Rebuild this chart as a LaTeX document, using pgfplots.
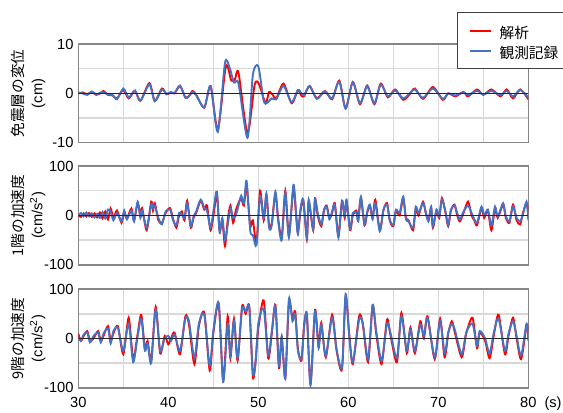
\documentclass[border=0pt]{standalone}
\usepackage{fontspec}
\setmainfont{Liberation Sans}
\newfontfamily\cjk{Noto Sans CJK JP}
\usepackage{pgfplots}
\pgfplotsset{compat=1.18}
\definecolor{myred}{RGB}{255,0,0}
\definecolor{myblue}{RGB}{68,114,196}
\definecolor{gridgray}{RGB}{217,217,217}
\definecolor{axgray}{RGB}{134,134,134}
\pgfplotsset{
 panel/.style={
  width=337.5pt, height=74pt, scale only axis,
  xmin=30, xmax=80,
  xtick={30,40,...,80}, minor xtick={35,45,...,75},
  grid=both,
  major grid style={gridgray,line width=1.1pt},
  minor grid style={gridgray,line width=1.1pt},
  major tick length=0pt, minor tick length=0pt,
  axis line style={axgray,line width=1.1pt},
  tick label style={font=\fontsize{11}{13}\selectfont},
  xticklabel style={yshift=-3.5pt},
  ylabel style={font=\fontsize{11}{14}\selectfont, align=center,
    at={(axis description cs:-0.111,0.5)}, anchor=center},
  every axis plot/.append style={line width=1.4pt, smooth, tension=0.45},
 }
}
\begin{document}
\begin{tikzpicture}
% ---------------- panel 1 ----------------
\begin{axis}[panel, at={(0pt,183.75pt)}, anchor=south west,
  ymin=-10, ymax=10, ytick={-10,0,10}, yticklabels={-10,0,10},
  minor ytick={-5,5}, xticklabels={},
  ylabel={{\cjk 免震層の変位}\\(cm)},
  legend style={at={(rel axis cs:0.842,1.321)}, anchor=north west,
    draw=black!75, line width=0.75pt, fill=white,
    font=\cjk\fontsize{11}{13}\selectfont,
    nodes={inner xsep=0pt, inner ysep=0.5pt, text height=11.5pt, text depth=0pt},
    inner xsep=8.25pt, inner ysep=7.2pt, row sep=2.5pt, column sep=6pt,
    cells={anchor=west}},
  legend image code/.code={\draw[#1, line width=1.4pt] (0pt,0pt) -- (15.75pt,0pt);},
]
\addplot[myred] coordinates {
(30,0) (30.5,0.2) (31,-0.2) (31.5,0.3) (32,-0.3) (32.5,0.1) (32.8,0.5) (33.3,-0.3) (33.8,-0.4) (34.3,-1) (35,0.7) (35.6,-1) (36.3,0.5) (36.9,-1.5) (37.9,2.1) (38.5,-1.5) (39.3,1) (39.8,-0.2) (40.3,0.2) (40.7,0) (41.3,1.5) (41.9,-0.8) (42.3,-0.5) (42.7,0.5) (43.1,-0.3) (44,-2.9) (44.7,1.5) (45.5,-7.3) (46.4,5.5) (47,2.6) (47.4,2.8) (47.8,4.2) (48.8,-8) (49.6,1.8) (50.1,1.8) (50.8,-2) (51.2,0.3) (51.6,-0.3) (52,-1) (52.8,2) (53.7,-2) (54.4,0.6) (54.8,-0.5) (55.1,-0.5) (55.7,1.5) (56.5,-1) (57.4,0.5) (58.2,-1.2) (59,2.6) (59.7,-3) (60.5,2.3) (61.3,-2.2) (62.1,1.6) (62.9,-2.2) (63.6,2) (64.4,-0.8) (65.2,0.8) (66.1,-1.3) (66.8,-0.2) (67.4,1) (68.3,-1.1) (69.4,1.3) (70.5,-1.3) (71.1,0) (71.9,-0.6) (72.8,0.3) (73.3,-0.6) (74.3,0.8) (75,-0.3) (75.9,0.8) (76.9,-0.6) (77.6,0.8) (78.3,-1) (79.1,0.8) (80,-1.2)
};
\addlegendentry{解析}
\addplot[myblue] coordinates {
(30,0.2) (30.5,0) (31,-0.3) (31.5,0.4) (32,-0.2) (32.5,0.2) (32.8,0.2) (33.3,-0.2) (33.8,-0.3) (34.3,-1.2) (35,1) (35.6,-0.8) (36.3,0.6) (36.9,-1.5) (37.9,1.8) (38.5,-1.6) (39.3,0.8) (39.8,-0.1) (40.3,0.3) (40.7,0.1) (41.3,1.6) (41.9,-0.9) (42.3,-0.6) (42.7,0.3) (43.1,-0.4) (44,-2.8) (44.7,1.5) (45.5,-7.8) (46.3,6.2) (46.8,5.3) (47.3,2.2) (47.8,2) (48.8,-9) (49.4,3.8) (50,5.5) (50.6,-1.5) (51,-1.9) (51.5,-1) (52,-1.2) (52.8,1.5) (53.7,-1.8) (54.4,0.7) (54.8,0) (55.1,-0.3) (55.7,1.5) (56.5,-1.1) (57.4,0.4) (58.2,-1) (59,2.4) (59.7,-3.1) (60.5,2.3) (61.3,-2) (62.1,1.4) (62.9,-2) (63.6,1.8) (64.4,-0.6) (65.2,0.6) (66.1,-1) (66.8,0) (67.4,0.8) (68.3,-0.9) (69.4,1) (70.5,-1.1) (71.1,0) (71.9,-0.4) (72.8,0.2) (73.3,-0.3) (74.3,0.5) (75,-0.2) (75.9,0.5) (76.9,-0.3) (77.6,0.5) (78.3,-0.6) (79.1,0.7) (80,-0.8)
};
\addlegendentry{観測記録}
\addplot[black!85, line width=1.1pt, sharp plot, forget plot] coordinates {(30,0) (80,0)};
\end{axis}
% ---------------- panel 2 ----------------
\begin{axis}[panel, at={(0pt,92.25pt)}, anchor=south west,
  ymin=-100, ymax=100, ytick={-100,0,100}, yticklabels={-100,0,100},
  minor ytick={-50,50}, xticklabels={},
  ylabel={{\cjk 1階の加速度}\\(cm/s\textsuperscript{2})},
]
\addplot[myred] coordinates {
(30.0,0) (30.3,-3) (30.6,4) (30.9,-2) (31.2,5) (31.5,-3) (31.8,4) (32.1,-4) (32.4,6) (32.7,-6) (33.0,8) (33.3,-8) (33.6,14) (33.9,-5) (34.3,10) (34.8,-15) (35.1,6) (35.4,-6) (35.9,14) (36.2,-10) (36.6,25) (36.9,0) (37.1,15) (37.6,-30) (38.1,28) (38.3,10) (38.5,25) (38.9,-10) (39.3,-15) (39.7,5) (40.2,15) (40.5,-5) (40.9,-25) (41.2,0) (41.5,8) (41.8,-10) (42.1,30) (42.5,-25) (42.8,-5) (43.1,5) (43.6,30) (44.0,12) (44.3,20) (44.7,-30) (45.1,10) (45.4,45) (45.7,-30) (46.0,-10) (46.3,-62) (46.6,-10) (46.9,20) (47.2,-15) (47.5,10) (47.8,25) (48.1,35) (48.4,20) (48.7,60) (49.1,-20) (49.4,-10) (49.8,-55) (50.2,50) (50.6,-10) (50.9,40) (51.2,-20) (51.5,-15) (51.9,45) (52.2,-5) (52.6,-45) (53.0,50) (53.4,-40) (53.9,55) (54.2,0) (54.4,-35) (54.7,10) (55.0,30) (55.4,-48) (55.6,28) (56.1,-30) (56.3,35) (56.6,0) (57.0,-22) (57.3,10) (57.6,20) (57.9,-5) (58.2,5) (58.5,25) (58.9,-40) (59.3,30) (59.6,-5) (59.8,30) (60.2,-30) (60.5,0) (60.9,10) (61.1,-10) (61.4,35) (61.8,-20) (62.1,5) (62.4,20) (62.7,-5) (63.0,32) (63.5,-30) (63.9,10) (64.3,25) (64.6,-10) (65.0,-22) (65.3,10) (65.7,0) (66.1,35) (66.4,-5) (66.7,-10) (67.2,-30) (67.5,15) (67.8,0) (68.3,28) (68.6,5) (68.9,-10) (69.2,15) (69.4,-25) (69.8,10) (70.1,-5) (70.4,35) (70.8,5) (71.1,-22) (71.4,10) (71.8,22) (72.1,0) (72.4,-12) (72.8,5) (73.3,28) (73.7,0) (74.0,-10) (74.3,-20) (74.8,15) (75.1,-5) (75.5,10) (75.9,-30) (76.3,15) (76.6,-5) (77.2,22) (77.5,-5) (77.9,-15) (78.3,22) (78.7,-10) (79.1,-18) (79.4,5) (79.8,25) (80.0,5)
};
\addplot[myblue] coordinates {
(30.0,0) (30.3,5) (30.6,-2) (30.9,6) (31.2,-2) (31.5,4) (31.8,-4) (32.1,3) (32.4,-5) (32.7,7) (33.0,-6) (33.3,12) (33.6,8) (33.9,-10) (34.3,5) (34.8,-12) (35.1,10) (35.4,-8) (35.9,10) (36.2,-12) (36.6,28) (36.9,-5) (37.1,10) (37.6,-25) (38.1,22) (38.3,15) (38.5,20) (38.9,-5) (39.3,-18) (39.7,8) (40.2,12) (40.5,-8) (40.9,-20) (41.2,5) (41.5,2) (41.8,-5) (42.1,25) (42.5,-22) (42.8,-2) (43.1,8) (43.6,32) (44.0,15) (44.3,10) (44.7,-25) (45.1,20) (45.4,48) (45.7,-35) (46.0,-5) (46.3,-50) (46.6,-20) (46.9,15) (47.2,-5) (47.5,0) (47.8,20) (48.1,40) (48.4,25) (48.7,70) (49.1,-30) (49.4,-40) (49.8,-60) (50.2,40) (50.6,-5) (50.9,45) (51.2,-25) (51.5,-20) (51.9,48) (52.2,-10) (52.6,-50) (53.0,45) (53.4,-45) (53.9,62) (54.2,5) (54.4,-38) (54.7,15) (55.0,32) (55.4,-45) (55.6,32) (56.1,-28) (56.3,32) (56.6,5) (57.0,-18) (57.3,12) (57.6,18) (57.9,-8) (58.2,8) (58.5,22) (58.9,-45) (59.3,28) (59.6,0) (59.8,32) (60.2,-28) (60.5,5) (60.9,5) (61.1,-12) (61.4,38) (61.8,-18) (62.1,8) (62.4,22) (62.7,-8) (63.0,25) (63.5,-32) (63.9,12) (64.3,22) (64.6,-8) (65.0,-20) (65.3,12) (65.7,5) (66.1,38) (66.4,-8) (66.7,-12) (67.2,-25) (67.5,18) (67.8,5) (68.3,25) (68.6,8) (68.9,-12) (69.2,18) (69.4,-22) (69.8,12) (70.1,-2) (70.4,32) (70.8,8) (71.1,-20) (71.4,12) (71.8,20) (72.1,5) (72.4,-8) (72.8,8) (73.3,20) (73.7,5) (74.0,-8) (74.3,-15) (74.8,18) (75.1,0) (75.5,12) (75.9,-20) (76.3,18) (76.6,-2) (77.2,25) (77.5,-2) (77.9,-12) (78.3,18) (78.7,-5) (79.1,-12) (79.4,2) (79.8,28) (80.0,-10)
};
\addplot[black!85, line width=1.1pt, sharp plot] coordinates {(30,0) (80,0)};
\end{axis}
% ---------------- panel 3 ----------------
\begin{axis}[panel, at={(0pt,0pt)}, anchor=south west,
  ymin=-100, ymax=100, ytick={-100,0,100}, yticklabels={-100,0,100},
  minor ytick={-50,50}, xticklabels={30,40,50,60,70,80},
  ylabel={{\cjk 9階の加速度}\\(cm/s\textsuperscript{2})},
  xlabel={(s)},
  xlabel style={font=\fontsize{11}{13}\selectfont, at={(axis description cs:1.055,0)}, anchor=north, yshift=-3.5pt},
]
\addplot[myred] coordinates {
(30.0,10) (30.3,-5) (30.6,5) (31.0,15) (31.3,-5) (31.7,0) (32.2,15) (32.5,-5) (32.8,5) (33.3,25) (33.6,-5) (33.9,10) (34.4,25) (35.0,-32) (35.6,42) (36.1,-42) (36.6,10) (37.0,48) (37.4,-20) (37.7,-5) (38.1,-45) (38.6,64) (39.1,-30) (39.6,5) (40.0,-12) (40.3,0) (40.7,12) (41.3,-32) (41.9,45) (42.3,28) (42.9,-52) (43.4,25) (44.0,52) (44.6,-65) (45.0,10) (45.6,70) (46.1,-85) (46.6,45) (46.9,-40) (47.3,40) (47.7,-45) (48.2,65) (48.6,50) (49.0,65) (49.4,-78) (49.7,-45) (50.0,20) (50.6,77) (51.1,-40) (51.5,10) (51.9,68) (52.3,-60) (52.6,0) (53.0,-80) (53.4,72) (53.8,40) (54.1,55) (54.4,-20) (54.8,-45) (55.1,30) (55.4,45) (55.8,-92) (56.3,58) (56.7,-15) (57.0,32) (57.5,-38) (58.2,48) (58.7,-25) (59.3,-62) (59.7,85) (60.1,10) (60.5,-52) (61.2,45) (61.6,30) (62.2,-48) (62.7,67) (63.1,10) (63.7,-52) (64.3,38) (64.7,5) (65.4,-48) (65.9,52) (66.5,-30) (66.9,22) (67.4,-30) (68.0,35) (68.4,0) (68.8,45) (69.6,-42) (70.2,40) (70.7,-38) (71.1,10) (71.5,35) (71.8,15) (72.6,-38) (73.1,10) (73.8,42) (74.3,-20) (74.6,12) (75.2,-5) (75.7,-40) (76.2,10) (76.7,48) (77.4,-32) (77.8,5) (78.3,42) (78.7,0) (79.2,-42) (79.8,25) (80.0,15)
};
\addplot[myblue] coordinates {
(30.0,0) (30.3,-5) (30.6,8) (31.0,12) (31.3,-8) (31.7,5) (32.2,12) (32.5,-8) (32.8,10) (33.3,20) (33.6,-10) (33.9,15) (34.4,22) (35.0,-25) (35.6,30) (36.1,-48) (36.6,5) (37.0,40) (37.4,-25) (37.7,-10) (38.1,-50) (38.6,58) (39.1,-25) (39.6,0) (40.0,5) (40.3,-5) (40.7,8) (41.3,-25) (41.9,40) (42.3,35) (42.9,-40) (43.4,30) (44.0,48) (44.6,-55) (45.0,15) (45.6,72) (46.1,-88) (46.6,30) (46.9,-35) (47.3,35) (47.7,-40) (48.2,60) (48.6,55) (49.0,62) (49.4,-70) (49.7,-50) (50.0,30) (50.6,60) (51.1,-35) (51.5,15) (51.9,65) (52.3,-55) (52.6,5) (53.0,-82) (53.4,80) (53.8,35) (54.1,50) (54.4,-25) (54.8,-40) (55.1,25) (55.4,50) (55.8,-95) (56.3,55) (56.7,-20) (57.0,28) (57.5,-35) (58.2,42) (58.7,-22) (59.3,-58) (59.7,90) (60.1,5) (60.5,-48) (61.2,38) (61.6,32) (62.2,-42) (62.7,68) (63.1,15) (63.7,-45) (64.3,30) (64.7,10) (65.4,-40) (65.9,45) (66.5,-25) (66.9,18) (67.4,-25) (68.0,28) (68.4,5) (68.8,42) (69.6,-38) (70.2,35) (70.7,-30) (71.1,12) (71.5,30) (71.8,20) (72.6,-32) (73.1,12) (73.8,30) (74.3,-15) (74.6,15) (75.2,0) (75.7,-30) (76.2,15) (76.7,40) (77.4,-25) (77.8,10) (78.3,35) (78.7,5) (79.2,-35) (79.8,30) (80.0,-5)
};
\addplot[black!85, line width=1.1pt, sharp plot] coordinates {(30,0) (80,0)};
\end{axis}
\pgfresetboundingbox
\path[use as bounding box] (-58.7pt,-18.2pt) rectangle (363.5pt,290.8pt);
\end{tikzpicture}
\end{document}
